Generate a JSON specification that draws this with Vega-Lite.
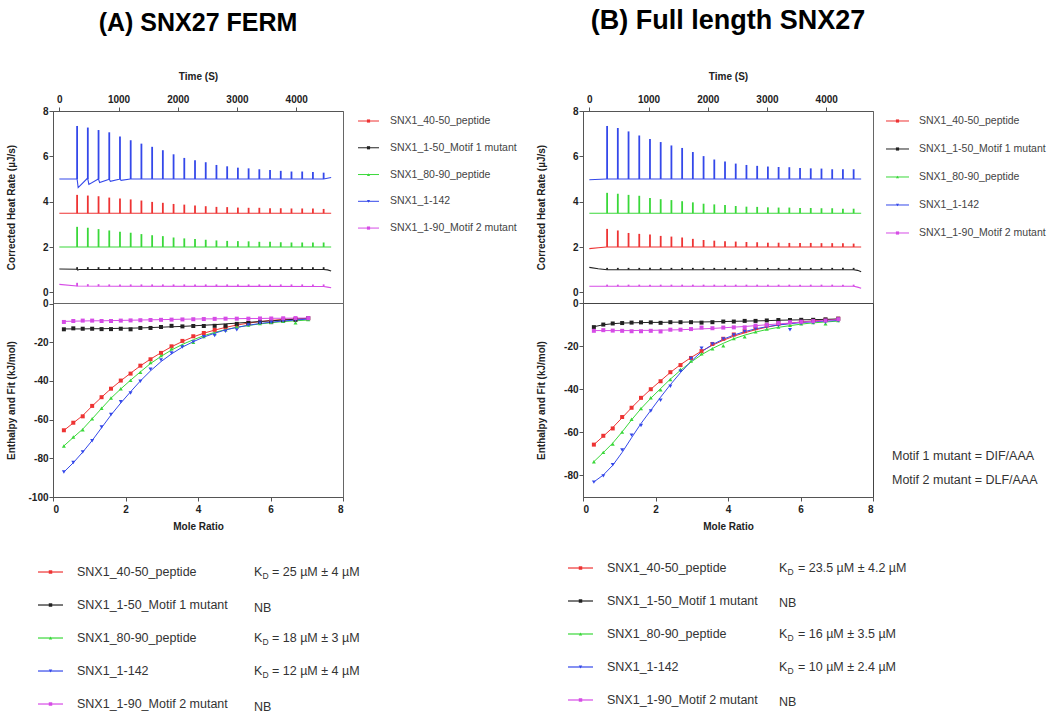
{
"$schema":"https://vega.github.io/schema/vega-lite/v6.json",
"padding":{"left":5,"top":6,"right":0,"bottom":0},
"background":"white",
"config":{"font":"Liberation Sans","view":{"stroke":null},
"axis":{"labelFont":"Liberation Sans","titleFont":"Liberation Sans","labelFontSize":10,"titleFontSize":10,"labelColor":"#222","titleColor":"#222","labelFontWeight":"bold","titleFontWeight":"bold","domainColor":"#555","tickColor":"#555","grid":false,"tickSize":4,"labelOverlap":false,"labelExpr":"'' + datum.value"},
"text":{"font":"Liberation Sans"}},
"datasets":{
"baseA":[{"s":"r","y0":3.49},{"s":"k","y0":1.01},{"s":"g","y0":2.0},{"s":"b","y0":5.0},{"s":"m","y0":0.27}],
"baseB":[{"s":"r","y0":2.0},{"s":"k","y0":1.0},{"s":"g","y0":3.49},{"s":"b","y0":5.0},{"s":"m","y0":0.27}],
"bl":[
{"p":"A","s":"r","t":0,"v":3.49},{"p":"A","s":"r","t":4590,"v":3.49},
{"p":"A","s":"g","t":0,"v":2.0},{"p":"A","s":"g","t":4590,"v":2.0},
{"p":"A","s":"b","t":0,"v":5.0},{"p":"A","s":"b","t":300,"v":5.0},{"p":"A","s":"b","t":318,"v":4.62},{"p":"A","s":"b","t":470,"v":5.02},{"p":"A","s":"b","t":481,"v":5.0},{"p":"A","s":"b","t":499,"v":4.76},{"p":"A","s":"b","t":650,"v":4.99},{"p":"A","s":"b","t":662,"v":5.0},{"p":"A","s":"b","t":680,"v":4.84},{"p":"A","s":"b","t":830,"v":4.98},{"p":"A","s":"b","t":843,"v":5.0},{"p":"A","s":"b","t":861,"v":4.9},{"p":"A","s":"b","t":1010,"v":4.99},{"p":"A","s":"b","t":1024,"v":5.0},{"p":"A","s":"b","t":1042,"v":4.94},{"p":"A","s":"b","t":1200,"v":5.0},{"p":"A","s":"b","t":4463,"v":5.0},{"p":"A","s":"b","t":4590,"v":5.07},
{"p":"A","s":"k","t":0,"v":1.03},{"p":"A","s":"k","t":295,"v":1.02},{"p":"A","s":"k","t":310,"v":0.98},{"p":"A","s":"k","t":330,"v":1.01},{"p":"A","s":"k","t":4463,"v":1.01},{"p":"A","s":"k","t":4530,"v":0.99},{"p":"A","s":"k","t":4590,"v":0.94},
{"p":"A","s":"m","t":0,"v":0.35},{"p":"A","s":"m","t":295,"v":0.28},{"p":"A","s":"m","t":1000,"v":0.27},{"p":"A","s":"m","t":4463,"v":0.26},{"p":"A","s":"m","t":4530,"v":0.23},{"p":"A","s":"m","t":4590,"v":0.2},
{"p":"B","s":"r","t":0,"v":1.93},{"p":"B","s":"r","t":150,"v":1.97},{"p":"B","s":"r","t":290,"v":2.0},{"p":"B","s":"r","t":4590,"v":2.0},
{"p":"B","s":"g","t":0,"v":3.49},{"p":"B","s":"g","t":4590,"v":3.49},
{"p":"B","s":"b","t":0,"v":4.97},{"p":"B","s":"b","t":290,"v":5.0},{"p":"B","s":"b","t":4590,"v":5.0},
{"p":"B","s":"k","t":0,"v":1.1},{"p":"B","s":"k","t":150,"v":1.04},{"p":"B","s":"k","t":300,"v":1.0},{"p":"B","s":"k","t":4463,"v":1.0},{"p":"B","s":"k","t":4530,"v":0.97},{"p":"B","s":"k","t":4590,"v":0.91},
{"p":"B","s":"m","t":0,"v":0.27},{"p":"B","s":"m","t":4463,"v":0.27},{"p":"B","s":"m","t":4530,"v":0.23},{"p":"B","s":"m","t":4590,"v":0.18}
],
"pk":[
{"p":"A","t":300,"r":4.30,"k":1.11,"g":2.89,"b":7.34,"m":0.42},
{"p":"A","t":481,"r":4.27,"k":1.11,"g":2.85,"b":7.27,"m":0.36},
{"p":"A","t":662,"r":4.24,"k":1.11,"g":2.79,"b":7.16,"m":0.36},
{"p":"A","t":843,"r":4.18,"k":1.11,"g":2.73,"b":7.06,"m":0.35},
{"p":"A","t":1024,"r":4.14,"k":1.11,"g":2.67,"b":6.88,"m":0.35},
{"p":"A","t":1205,"r":4.10,"k":1.11,"g":2.63,"b":6.71,"m":0.35},
{"p":"A","t":1386,"r":4.05,"k":1.11,"g":2.57,"b":6.56,"m":0.35},
{"p":"A","t":1567,"r":3.99,"k":1.11,"g":2.52,"b":6.42,"m":0.35},
{"p":"A","t":1748,"r":3.95,"k":1.11,"g":2.48,"b":6.27,"m":0.35},
{"p":"A","t":1929,"r":3.90,"k":1.11,"g":2.42,"b":6.09,"m":0.35},
{"p":"A","t":2110,"r":3.87,"k":1.11,"g":2.38,"b":5.93,"m":0.35},
{"p":"A","t":2291,"r":3.83,"k":1.11,"g":2.35,"b":5.83,"m":0.35},
{"p":"A","t":2472,"r":3.80,"k":1.11,"g":2.32,"b":5.74,"m":0.35},
{"p":"A","t":2653,"r":3.77,"k":1.11,"g":2.29,"b":5.62,"m":0.35},
{"p":"A","t":2834,"r":3.76,"k":1.11,"g":2.27,"b":5.56,"m":0.35},
{"p":"A","t":3015,"r":3.74,"k":1.11,"g":2.26,"b":5.50,"m":0.35},
{"p":"A","t":3196,"r":3.73,"k":1.11,"g":2.25,"b":5.47,"m":0.35},
{"p":"A","t":3377,"r":3.73,"k":1.11,"g":2.23,"b":5.43,"m":0.35},
{"p":"A","t":3558,"r":3.71,"k":1.11,"g":2.23,"b":5.40,"m":0.35},
{"p":"A","t":3739,"r":3.71,"k":1.11,"g":2.21,"b":5.36,"m":0.35},
{"p":"A","t":3920,"r":3.70,"k":1.11,"g":2.20,"b":5.33,"m":0.35},
{"p":"A","t":4101,"r":3.70,"k":1.11,"g":2.20,"b":5.33,"m":0.35},
{"p":"A","t":4282,"r":3.70,"k":1.11,"g":2.20,"b":5.31,"m":0.35},
{"p":"A","t":4463,"r":3.68,"k":1.11,"g":2.20,"b":5.28,"m":0.35},
{"p":"B","t":300,"r":2.80,"k":1.08,"g":4.39,"b":7.34,"m":0.34},
{"p":"B","t":481,"r":2.73,"k":1.08,"g":4.35,"b":7.25,"m":0.34},
{"p":"B","t":662,"r":2.62,"k":1.08,"g":4.30,"b":7.10,"m":0.34},
{"p":"B","t":843,"r":2.58,"k":1.08,"g":4.26,"b":6.92,"m":0.34},
{"p":"B","t":1024,"r":2.55,"k":1.08,"g":4.16,"b":6.77,"m":0.34},
{"p":"B","t":1205,"r":2.49,"k":1.08,"g":4.11,"b":6.63,"m":0.34},
{"p":"B","t":1386,"r":2.46,"k":1.08,"g":4.07,"b":6.48,"m":0.34},
{"p":"B","t":1567,"r":2.42,"k":1.08,"g":4.02,"b":6.37,"m":0.34},
{"p":"B","t":1748,"r":2.36,"k":1.08,"g":3.97,"b":6.19,"m":0.34},
{"p":"B","t":1929,"r":2.31,"k":1.08,"g":3.91,"b":6.01,"m":0.34},
{"p":"B","t":2110,"r":2.28,"k":1.08,"g":3.88,"b":5.86,"m":0.34},
{"p":"B","t":2291,"r":2.25,"k":1.08,"g":3.85,"b":5.77,"m":0.34},
{"p":"B","t":2472,"r":2.24,"k":1.08,"g":3.81,"b":5.68,"m":0.34},
{"p":"B","t":2653,"r":2.22,"k":1.08,"g":3.78,"b":5.62,"m":0.34},
{"p":"B","t":2834,"r":2.21,"k":1.08,"g":3.77,"b":5.58,"m":0.34},
{"p":"B","t":3015,"r":2.19,"k":1.08,"g":3.75,"b":5.55,"m":0.34},
{"p":"B","t":3196,"r":2.19,"k":1.08,"g":3.74,"b":5.53,"m":0.34},
{"p":"B","t":3377,"r":2.18,"k":1.08,"g":3.74,"b":5.52,"m":0.34},
{"p":"B","t":3558,"r":2.18,"k":1.08,"g":3.72,"b":5.49,"m":0.34},
{"p":"B","t":3739,"r":2.18,"k":1.08,"g":3.72,"b":5.47,"m":0.34},
{"p":"B","t":3920,"r":2.17,"k":1.08,"g":3.71,"b":5.46,"m":0.34},
{"p":"B","t":4101,"r":2.17,"k":1.08,"g":3.71,"b":5.43,"m":0.34},
{"p":"B","t":4282,"r":2.17,"k":1.08,"g":3.69,"b":5.43,"m":0.34},
{"p":"B","t":4463,"r":2.15,"k":1.08,"g":3.69,"b":5.43,"m":0.34}
],
"isoD":[
{"p":"A","x":0.30,"r":-65.5,"k":-13.3,"g":-73.6,"b":-87.1,"m":-9.5},
{"p":"A","x":0.56,"r":-61.6,"k":-12.8,"g":-69.0,"b":-82.2,"m":-9.0},
{"p":"A","x":0.82,"r":-58.3,"k":-13.0,"g":-65.2,"b":-76.7,"m":-8.8},
{"p":"A","x":1.08,"r":-52.9,"k":-13.0,"g":-59.5,"b":-70.9,"m":-8.8},
{"p":"A","x":1.34,"r":-48.4,"k":-13.2,"g":-54.1,"b":-63.8,"m":-9.0},
{"p":"A","x":1.60,"r":-44.0,"k":-13.2,"g":-48.8,"b":-57.4,"m":-9.0},
{"p":"A","x":1.87,"r":-39.8,"k":-13.0,"g":-44.0,"b":-50.7,"m":-8.8},
{"p":"A","x":2.14,"r":-36.2,"k":-13.3,"g":-39.7,"b":-46.2,"m":-8.7},
{"p":"A","x":2.41,"r":-32.1,"k":-12.6,"g":-35.5,"b":-40.2,"m":-8.6},
{"p":"A","x":2.69,"r":-28.8,"k":-12.6,"g":-30.5,"b":-34.0,"m":-8.5},
{"p":"A","x":2.98,"r":-25.5,"k":-12.1,"g":-26.9,"b":-29.1,"m":-8.4},
{"p":"A","x":3.27,"r":-22.1,"k":-11.5,"g":-23.3,"b":-25.5,"m":-8.3},
{"p":"A","x":3.57,"r":-19.3,"k":-11.8,"g":-21.5,"b":-22.4,"m":-8.2},
{"p":"A","x":3.87,"r":-16.9,"k":-11.6,"g":-20.0,"b":-19.8,"m":-8.1},
{"p":"A","x":4.16,"r":-15.2,"k":-11.6,"g":-17.0,"b":-17.2,"m":-8.0},
{"p":"A","x":4.46,"r":-13.6,"k":-11.5,"g":-15.5,"b":-16.5,"m":-7.9},
{"p":"A","x":4.76,"r":-12.3,"k":-11.5,"g":-13.6,"b":-14.3,"m":-7.8},
{"p":"A","x":5.07,"r":-11.0,"k":-10.5,"g":-12.1,"b":-13.6,"m":-7.8},
{"p":"A","x":5.39,"r":-10.1,"k":-10.0,"g":-11.1,"b":-11.1,"m":-7.8},
{"p":"A","x":5.71,"r":-9.3,"k":-9.4,"g":-10.3,"b":-10.2,"m":-7.7},
{"p":"A","x":6.02,"r":-8.8,"k":-9.6,"g":-9.7,"b":-9.6,"m":-7.7},
{"p":"A","x":6.35,"r":-8.3,"k":-8.8,"g":-9.1,"b":-9.0,"m":-7.6},
{"p":"A","x":6.69,"r":-8.0,"k":-8.4,"g":-9.9,"b":-8.5,"m":-7.5},
{"p":"A","x":7.04,"r":-7.6,"k":-7.6,"g":-8.3,"b":-8.0,"m":-7.5},
{"p":"B","x":0.30,"r":-65.7,"k":-11.2,"g":-73.6,"b":-83.1,"m":-12.9},
{"p":"B","x":0.56,"r":-61.6,"k":-10.0,"g":-69.3,"b":-80.2,"m":-12.6},
{"p":"B","x":0.82,"r":-58.2,"k":-9.5,"g":-65.4,"b":-75.0,"m":-12.8},
{"p":"B","x":1.08,"r":-52.9,"k":-9.3,"g":-59.8,"b":-68.2,"m":-12.9},
{"p":"B","x":1.34,"r":-48.6,"k":-9.1,"g":-53.9,"b":-61.3,"m":-13.1},
{"p":"B","x":1.60,"r":-44.0,"k":-9.0,"g":-48.9,"b":-56.8,"m":-13.1},
{"p":"B","x":1.87,"r":-40.0,"k":-9.0,"g":-44.0,"b":-50.1,"m":-12.9},
{"p":"B","x":2.14,"r":-36.3,"k":-9.2,"g":-40.2,"b":-45.1,"m":-13.2},
{"p":"B","x":2.41,"r":-32.1,"k":-8.9,"g":-35.5,"b":-38.6,"m":-12.4},
{"p":"B","x":2.69,"r":-28.8,"k":-8.9,"g":-30.8,"b":-31.6,"m":-12.4},
{"p":"B","x":2.98,"r":-25.5,"k":-8.9,"g":-26.9,"b":-25.7,"m":-12.1},
{"p":"B","x":3.27,"r":-22.3,"k":-9.1,"g":-23.5,"b":-21.0,"m":-11.4},
{"p":"B","x":3.57,"r":-19.0,"k":-8.9,"g":-21.2,"b":-19.0,"m":-11.7},
{"p":"B","x":3.87,"r":-16.6,"k":-8.6,"g":-19.8,"b":-16.7,"m":-11.4},
{"p":"B","x":4.16,"r":-14.6,"k":-8.6,"g":-16.5,"b":-14.8,"m":-11.3},
{"p":"B","x":4.46,"r":-13.1,"k":-8.3,"g":-15.7,"b":-13.2,"m":-11.3},
{"p":"B","x":4.76,"r":-11.7,"k":-8.3,"g":-13.4,"b":-11.9,"m":-10.5},
{"p":"B","x":5.07,"r":-10.4,"k":-8.1,"g":-12.1,"b":-11.0,"m":-10.1},
{"p":"B","x":5.39,"r":-9.6,"k":-7.9,"g":-11.2,"b":-10.3,"m":-9.3},
{"p":"B","x":5.71,"r":-8.9,"k":-7.9,"g":-10.3,"b":-12.4,"m":-8.9},
{"p":"B","x":6.02,"r":-8.6,"k":-7.8,"g":-9.6,"b":-9.5,"m":-8.7},
{"p":"B","x":6.35,"r":-8.1,"k":-7.8,"g":-9.0,"b":-9.2,"m":-8.4},
{"p":"B","x":6.69,"r":-7.8,"k":-7.6,"g":-9.6,"b":-8.9,"m":-8.1},
{"p":"B","x":7.04,"r":-7.3,"k":-7.3,"g":-8.1,"b":-8.2,"m":-7.5}
],
"isoF":[
{"p":"A","x":0.30,"r":-65.6,"k":-13.1,"g":-73.6,"b":-87.1,"m":-9.2},
{"p":"A","x":0.56,"r":-61.7,"k":-13.1,"g":-69.2,"b":-82.3,"m":-9.1},
{"p":"A","x":0.82,"r":-57.9,"k":-13.1,"g":-64.9,"b":-76.8,"m":-9.0},
{"p":"A","x":1.08,"r":-53.0,"k":-13.0,"g":-59.6,"b":-70.8,"m":-8.9},
{"p":"A","x":1.34,"r":-48.4,"k":-13.0,"g":-54.2,"b":-64.2,"m":-8.9},
{"p":"A","x":1.60,"r":-44.0,"k":-12.9,"g":-48.9,"b":-57.6,"m":-8.8},
{"p":"A","x":1.87,"r":-39.9,"k":-12.8,"g":-44.1,"b":-51.4,"m":-8.7},
{"p":"A","x":2.14,"r":-36.0,"k":-12.7,"g":-39.6,"b":-45.6,"m":-8.6},
{"p":"A","x":2.41,"r":-32.2,"k":-12.6,"g":-35.3,"b":-40.0,"m":-8.5},
{"p":"A","x":2.69,"r":-28.7,"k":-12.4,"g":-31.0,"b":-34.8,"m":-8.4},
{"p":"A","x":2.98,"r":-25.4,"k":-12.2,"g":-27.3,"b":-30.0,"m":-8.3},
{"p":"A","x":3.27,"r":-22.3,"k":-12.0,"g":-24.0,"b":-26.0,"m":-8.2},
{"p":"A","x":3.57,"r":-19.6,"k":-11.8,"g":-21.1,"b":-22.5,"m":-8.1},
{"p":"A","x":3.87,"r":-17.2,"k":-11.5,"g":-18.7,"b":-19.7,"m":-8.0},
{"p":"A","x":4.16,"r":-15.3,"k":-11.2,"g":-16.6,"b":-17.3,"m":-7.9},
{"p":"A","x":4.46,"r":-13.7,"k":-10.9,"g":-14.9,"b":-15.3,"m":-7.9},
{"p":"A","x":4.76,"r":-12.3,"k":-10.5,"g":-13.5,"b":-13.6,"m":-7.8},
{"p":"A","x":5.07,"r":-11.1,"k":-10.1,"g":-12.3,"b":-12.3,"m":-7.8},
{"p":"A","x":5.39,"r":-10.1,"k":-9.7,"g":-11.3,"b":-11.2,"m":-7.7},
{"p":"A","x":5.71,"r":-9.3,"k":-9.3,"g":-10.5,"b":-10.3,"m":-7.7},
{"p":"A","x":6.02,"r":-8.7,"k":-8.9,"g":-9.9,"b":-9.6,"m":-7.6},
{"p":"A","x":6.35,"r":-8.2,"k":-8.5,"g":-9.3,"b":-9.0,"m":-7.6},
{"p":"A","x":6.69,"r":-7.9,"k":-8.1,"g":-8.9,"b":-8.5,"m":-7.5},
{"p":"A","x":7.04,"r":-7.6,"k":-7.6,"g":-8.5,"b":-8.0,"m":-7.5},
{"p":"B","x":0.30,"r":-65.7,"k":-11.0,"g":-73.6,"b":-83.0,"m":-12.8},
{"p":"B","x":0.56,"r":-61.8,"k":-10.1,"g":-69.4,"b":-79.8,"m":-12.8},
{"p":"B","x":0.82,"r":-57.8,"k":-9.6,"g":-65.0,"b":-75.3,"m":-12.8},
{"p":"B","x":1.08,"r":-53.2,"k":-9.3,"g":-59.8,"b":-69.3,"m":-12.8},
{"p":"B","x":1.34,"r":-48.6,"k":-9.2,"g":-54.2,"b":-62.5,"m":-12.8},
{"p":"B","x":1.60,"r":-44.2,"k":-9.1,"g":-49.0,"b":-55.9,"m":-12.7},
{"p":"B","x":1.87,"r":-40.0,"k":-9.0,"g":-44.2,"b":-49.8,"m":-12.7},
{"p":"B","x":2.14,"r":-36.1,"k":-9.0,"g":-39.7,"b":-43.7,"m":-12.6},
{"p":"B","x":2.41,"r":-32.2,"k":-8.9,"g":-35.3,"b":-37.9,"m":-12.5},
{"p":"B","x":2.69,"r":-28.6,"k":-8.9,"g":-31.2,"b":-32.3,"m":-12.4},
{"p":"B","x":2.98,"r":-25.3,"k":-8.8,"g":-27.4,"b":-27.1,"m":-12.2},
{"p":"B","x":3.27,"r":-22.3,"k":-8.8,"g":-24.0,"b":-22.6,"m":-12.0},
{"p":"B","x":3.57,"r":-19.6,"k":-8.7,"g":-21.1,"b":-19.3,"m":-11.8},
{"p":"B","x":3.87,"r":-17.3,"k":-8.6,"g":-18.7,"b":-16.8,"m":-11.5},
{"p":"B","x":4.16,"r":-15.4,"k":-8.5,"g":-16.6,"b":-14.9,"m":-11.2},
{"p":"B","x":4.46,"r":-13.8,"k":-8.4,"g":-14.9,"b":-13.3,"m":-10.9},
{"p":"B","x":4.76,"r":-12.4,"k":-8.3,"g":-13.5,"b":-12.0,"m":-10.5},
{"p":"B","x":5.07,"r":-11.2,"k":-8.2,"g":-12.3,"b":-11.0,"m":-10.1},
{"p":"B","x":5.39,"r":-10.2,"k":-8.0,"g":-11.3,"b":-10.2,"m":-9.7},
{"p":"B","x":5.71,"r":-9.4,"k":-7.9,"g":-10.5,"b":-9.6,"m":-9.3},
{"p":"B","x":6.02,"r":-8.8,"k":-7.8,"g":-9.8,"b":-9.1,"m":-8.9},
{"p":"B","x":6.35,"r":-8.3,"k":-7.7,"g":-9.2,"b":-8.7,"m":-8.5},
{"p":"B","x":6.69,"r":-7.9,"k":-7.6,"g":-8.8,"b":-8.4,"m":-8.1},
{"p":"B","x":7.04,"r":-7.5,"k":-7.4,"g":-8.4,"b":-8.1,"m":-7.7}
],
"leg":[
{"s":"r","o":1,"n":"SNX1_40-50_peptide","kA":"= 25 µM ± 4 µM","kB":"= 23.5 µM ± 4.2 µM"},
{"s":"k","o":2,"n":"SNX1_1-50_Motif 1 mutant","kA":"NB","kB":"NB"},
{"s":"g","o":3,"n":"SNX1_80-90_peptide","kA":"= 18 µM ± 3 µM","kB":"= 16 µM ± 3.5 µM"},
{"s":"b","o":4,"n":"SNX1_1-142","kA":"= 12 µM ± 4 µM","kB":"= 10 µM ± 2.4 µM"},
{"s":"m","o":5,"n":"SNX1_1-90_Motif 2 mutant","kA":"NB","kB":"NB"}
]
},
"columns":4,
"spacing":0,
"bounds":"flush",
"align":"each",
"concat":[
{"width":290,"height":192,"view":{"stroke":"#666"},
"title":{"text":"(A) SNX27 FERM","fontSize":25,"fontWeight":"bold","font":"Liberation Sans","color":"#000","offset":35,"anchor":"middle"},
"layer":[
{"data":{"name":"bl"},"transform":[{"filter":"datum.p=='A'"}],"mark":{"type":"line","strokeWidth":1.1},
"encoding":{"x":{"field":"t","type":"quantitative","scale":{"domain":[-107,4790],"nice":false,"zero":false},"axis":{"orient":"top","values":[0,1000,2000,3000,4000],"title":"Time (S)","labelPadding":3,"titlePadding":13,"labelOverlap":false}},
"y":{"field":"v","type":"quantitative","scale":{"domain":[-0.47,8],"nice":false,"zero":false},"axis":{"values":[0,2,4,6,8],"title":"Corrected Heat Rate (µJ/s)","titleX":-37,"labelPadding":1,"labelOverlap":false}},
"color":{"field":"s","type":"nominal","scale":{"domain":["r","k","g","b","m"],"range":["#ee3333","#222222","#3ad83a","#3448ea","#d64ce6"]},"legend":null}}},
{"data":{"name":"pk"},"transform":[{"filter":"datum.p=='A'"},{"fold":["r","k","g","b","m"],"as":["s","v"]},{"lookup":"s","from":{"data":{"name":"baseA"},"key":"s","fields":["y0"]}}],
"mark":{"type":"rule","strokeWidth":1.8},
"encoding":{"x":{"field":"t","type":"quantitative"},"y":{"field":"v","type":"quantitative"},"y2":{"field":"y0"},"color":{"field":"s","type":"nominal","legend":null}}}
]},
{"width":240,"height":192,"data":{"name":"leg"},
"encoding":{"y":{"field":"o","type":"quantitative","scale":{"domain":[0.626,7.8],"reverse":true,"nice":false,"zero":false},"axis":null},
"color":{"field":"s","type":"nominal","scale":{"domain":["r","k","g","b","m"],"range":["#ee3333","#222222","#3ad83a","#3448ea","#d64ce6"]},"legend":null}},
"layer":[
{"mark":{"type":"rule","strokeWidth":1},"encoding":{"x":{"datum":15,"type":"quantitative","scale":{"domain":[0,240],"nice":false,"zero":false},"axis":null},"x2":{"datum":36}}},
{"mark":{"type":"point","filled":true,"size":10,"opacity":1},"encoding":{"x":{"datum":25.5,"type":"quantitative"},"shape":{"field":"s","type":"nominal","scale":{"domain":["r","k","g","b","m"],"range":["square","square","triangle-up","triangle-down","square"]},"legend":null}}},
{"mark":{"type":"text","align":"left","baseline":"middle","fontSize":10.5},"encoding":{"x":{"datum":47,"type":"quantitative"},"text":{"field":"n"},"color":{"value":"#444"}}}
]},
{"width":290,"height":192,"view":{"stroke":"#666"},
"title":{"text":"(B) Full length SNX27","fontSize":27,"fontWeight":"bold","font":"Liberation Sans","color":"#000","offset":36,"anchor":"middle"},
"layer":[
{"data":{"name":"bl"},"transform":[{"filter":"datum.p=='B'"}],"mark":{"type":"line","strokeWidth":1.1},
"encoding":{"x":{"field":"t","type":"quantitative","scale":{"domain":[-107,4790],"nice":false,"zero":false},"axis":{"orient":"top","values":[0,1000,2000,3000,4000],"title":"Time (S)","labelPadding":3,"titlePadding":13,"labelOverlap":false}},
"y":{"field":"v","type":"quantitative","scale":{"domain":[-0.47,8],"nice":false,"zero":false},"axis":{"values":[0,2,4,6,8],"title":"Corrected Heat Rate (µJ/s)","titleX":-37,"labelPadding":1,"labelOverlap":false}},
"color":{"field":"s","type":"nominal","scale":{"domain":["r","k","g","b","m"],"range":["#ee3333","#222222","#3ad83a","#3448ea","#d64ce6"]},"legend":null}}},
{"data":{"name":"pk"},"transform":[{"filter":"datum.p=='B'"},{"fold":["r","k","g","b","m"],"as":["s","v"]},{"lookup":"s","from":{"data":{"name":"baseB"},"key":"s","fields":["y0"]}}],
"mark":{"type":"rule","strokeWidth":1.8},
"encoding":{"x":{"field":"t","type":"quantitative"},"y":{"field":"v","type":"quantitative"},"y2":{"field":"y0"},"color":{"field":"s","type":"nominal","legend":null}}}
]},
{"width":178,"height":192,"data":{"name":"leg"},
"encoding":{"y":{"field":"o","type":"quantitative","scale":{"domain":[0.643,7.5],"reverse":true,"nice":false,"zero":false},"axis":null},
"color":{"field":"s","type":"nominal","scale":{"domain":["r","k","g","b","m"],"range":["#ee3333","#222222","#3ad83a","#3448ea","#d64ce6"]},"legend":null}},
"layer":[
{"mark":{"type":"rule","strokeWidth":1},"encoding":{"x":{"datum":13,"type":"quantitative","scale":{"domain":[0,178],"nice":false,"zero":false},"axis":null},"x2":{"datum":36}}},
{"mark":{"type":"point","filled":true,"size":10,"opacity":1},"encoding":{"x":{"datum":24.5,"type":"quantitative"},"shape":{"field":"s","type":"nominal","scale":{"domain":["r","k","g","b","m"],"range":["square","square","triangle-up","triangle-down","square"]},"legend":null}}},
{"mark":{"type":"text","align":"left","baseline":"middle","fontSize":10.5},"encoding":{"x":{"datum":46,"type":"quantitative"},"text":{"field":"n"},"color":{"value":"#444"}}}
]},
{"width":290,"height":194,"view":{"stroke":"#666"},
"layer":[
{"data":{"name":"isoF"},"transform":[{"filter":"datum.p=='A'"},{"fold":["r","k","g","b","m"],"as":["s","v"]}],"mark":{"type":"line","strokeWidth":1},
"encoding":{"x":{"field":"x","type":"quantitative","scale":{"domain":[0,8],"nice":false,"zero":false},"axis":{"values":[0,2,4,6,8],"title":"Mole Ratio","labelPadding":3,"titlePadding":7,"labelOverlap":false}},
"y":{"field":"v","type":"quantitative","scale":{"domain":[-100,0.3],"nice":false,"zero":false},"axis":{"values":[0,-20,-40,-60,-80,-100],"title":"Enthalpy and Fit (kJ/mol)","titleX":-37,"labelPadding":1,"labelOverlap":false,"labelFlush":false}},
"color":{"field":"s","type":"nominal","scale":{"domain":["r","k","g","b","m"],"range":["#ee3333","#222222","#3ad83a","#3448ea","#d64ce6"]},"legend":null}}},
{"data":{"name":"isoD"},"transform":[{"filter":"datum.p=='A'"},{"fold":["r","k","g","b","m"],"as":["s","v"]}],"mark":{"type":"point","filled":true,"size":16,"opacity":1},
"encoding":{"x":{"field":"x","type":"quantitative","axis":{"values":[0,2,4,6,8],"title":"Mole Ratio","labelPadding":3,"titlePadding":7,"labelOverlap":false}},"y":{"field":"v","type":"quantitative","axis":{"values":[0,-20,-40,-60,-80,-100],"title":"Enthalpy and Fit (kJ/mol)","titleX":-37,"labelPadding":1,"labelOverlap":false,"labelFlush":false}},"color":{"field":"s","type":"nominal","legend":null},
"shape":{"field":"s","type":"nominal","scale":{"domain":["r","k","g","b","m"],"range":["square","square","triangle-up","triangle-down","square"]},"legend":null}}}
]},
{"width":240,"height":194,"data":{"values":[{"a":1}]},"mark":{"type":"text"},"encoding":{"text":{"value":""}}},
{"width":290,"height":194,"view":{"stroke":"#444"},
"layer":[
{"data":{"name":"isoF"},"transform":[{"filter":"datum.p=='B'"},{"fold":["r","k","g","b","m"],"as":["s","v"]}],"mark":{"type":"line","strokeWidth":1},
"encoding":{"x":{"field":"x","type":"quantitative","scale":{"domain":[0,8],"nice":false,"zero":false},"axis":{"values":[0,2,4,6,8],"title":"Mole Ratio","labelPadding":3,"titlePadding":7,"labelOverlap":false}},
"y":{"field":"v","type":"quantitative","scale":{"domain":[-90,0],"nice":false,"zero":false},"axis":{"values":[0,-20,-40,-60,-80],"title":"Enthalpy and Fit (kJ/mol)","titleX":-37,"labelPadding":1,"labelOverlap":false}},
"color":{"field":"s","type":"nominal","scale":{"domain":["r","k","g","b","m"],"range":["#ee3333","#222222","#3ad83a","#3448ea","#d64ce6"]},"legend":null}}},
{"data":{"name":"isoD"},"transform":[{"filter":"datum.p=='B'"},{"fold":["r","k","g","b","m"],"as":["s","v"]}],"mark":{"type":"point","filled":true,"size":16,"opacity":1},
"encoding":{"x":{"field":"x","type":"quantitative"},"y":{"field":"v","type":"quantitative"},"color":{"field":"s","type":"nominal","legend":null},
"shape":{"field":"s","type":"nominal","scale":{"domain":["r","k","g","b","m"],"range":["square","square","triangle-up","triangle-down","square"]},"legend":null}}}
]},
{"width":178,"height":194,"data":{"values":[{"o":1,"t":"Motif 1 mutant = DIF/AAA"},{"o":2,"t":"Motif 2 mutant = DLF/AAA"}]},
"mark":{"type":"text","align":"left","baseline":"middle","fontSize":12.5,"color":"#333"},
"encoding":{"x":{"datum":19,"type":"quantitative","scale":{"domain":[0,178],"nice":false,"zero":false},"axis":null},"y":{"field":"o","type":"quantitative","scale":{"domain":[-5.375,2.708],"reverse":true,"nice":false,"zero":false},"axis":null},"text":{"field":"t"}}},
{"width":290,"height":215,"data":{"name":"leg"},
"encoding":{"y":{"field":"o","type":"quantitative","scale":{"domain":[-1.273,5.242],"reverse":true,"nice":false,"zero":false},"axis":null}},
"layer":[
{"mark":{"type":"rule","strokeWidth":1.2},"encoding":{"x":{"datum":-15,"type":"quantitative","scale":{"domain":[0,290],"nice":false,"zero":false},"axis":null},"x2":{"datum":10},"color":{"field":"s","type":"nominal","scale":{"domain":["r","k","g","b","m"],"range":["#ee3333","#222222","#3ad83a","#3448ea","#d64ce6"]},"legend":null}}},
{"mark":{"type":"point","filled":true,"size":12,"opacity":1},"encoding":{"x":{"datum":-2.5,"type":"quantitative"},"color":{"field":"s","type":"nominal","legend":null},"shape":{"field":"s","type":"nominal","scale":{"domain":["r","k","g","b","m"],"range":["square","square","triangle-up","triangle-down","square"]},"legend":null}}},
{"mark":{"type":"text","align":"left","baseline":"middle","fontSize":12.5,"color":"#333"},"encoding":{"x":{"datum":24,"type":"quantitative"},"text":{"field":"n"}}},
{"transform":[{"filter":"datum.kA != 'NB'"}],"mark":{"type":"text","align":"left","baseline":"middle","fontSize":12.5,"color":"#333","text":"K"},"encoding":{"x":{"datum":201,"type":"quantitative"}}},
{"transform":[{"filter":"datum.kA != 'NB'"}],"mark":{"type":"text","align":"left","baseline":"middle","fontSize":8.5,"color":"#333","text":"D","dy":4},"encoding":{"x":{"datum":209.5,"type":"quantitative"}}},
{"transform":[{"filter":"datum.kA != 'NB'"}],"mark":{"type":"text","align":"left","baseline":"middle","fontSize":12.5,"color":"#333"},"encoding":{"x":{"datum":219,"type":"quantitative"},"text":{"field":"kA"}}},
{"transform":[{"filter":"datum.kA == 'NB'"}],"mark":{"type":"text","align":"left","baseline":"middle","fontSize":12.5,"color":"#333","dy":3},"encoding":{"x":{"datum":201,"type":"quantitative"},"text":{"field":"kA"}}}
]},
{"width":240,"height":215,"data":{"values":[{"a":1}]},"mark":{"type":"text"},"encoding":{"text":{"value":""}}},
{"width":290,"height":215,"data":{"name":"leg"},
"encoding":{"y":{"field":"o","type":"quantitative","scale":{"domain":[-1.152,5.364],"reverse":true,"nice":false,"zero":false},"axis":null}},
"layer":[
{"mark":{"type":"rule","strokeWidth":1.2},"encoding":{"x":{"datum":-15,"type":"quantitative","scale":{"domain":[0,290],"nice":false,"zero":false},"axis":null},"x2":{"datum":10},"color":{"field":"s","type":"nominal","scale":{"domain":["r","k","g","b","m"],"range":["#ee3333","#222222","#3ad83a","#3448ea","#d64ce6"]},"legend":null}}},
{"mark":{"type":"point","filled":true,"size":12,"opacity":1},"encoding":{"x":{"datum":-2.5,"type":"quantitative"},"color":{"field":"s","type":"nominal","legend":null},"shape":{"field":"s","type":"nominal","scale":{"domain":["r","k","g","b","m"],"range":["square","square","triangle-up","triangle-down","square"]},"legend":null}}},
{"mark":{"type":"text","align":"left","baseline":"middle","fontSize":12.5,"color":"#333"},"encoding":{"x":{"datum":24,"type":"quantitative"},"text":{"field":"n"}}},
{"transform":[{"filter":"datum.kB != 'NB'"}],"mark":{"type":"text","align":"left","baseline":"middle","fontSize":12.5,"color":"#333","text":"K"},"encoding":{"x":{"datum":196,"type":"quantitative"}}},
{"transform":[{"filter":"datum.kB != 'NB'"}],"mark":{"type":"text","align":"left","baseline":"middle","fontSize":8.5,"color":"#333","text":"D","dy":4},"encoding":{"x":{"datum":204.5,"type":"quantitative"}}},
{"transform":[{"filter":"datum.kB != 'NB'"}],"mark":{"type":"text","align":"left","baseline":"middle","fontSize":12.5,"color":"#333"},"encoding":{"x":{"datum":215,"type":"quantitative"},"text":{"field":"kB"}}},
{"transform":[{"filter":"datum.kB == 'NB'"}],"mark":{"type":"text","align":"left","baseline":"middle","fontSize":12.5,"color":"#333","dy":2},"encoding":{"x":{"datum":196,"type":"quantitative"},"text":{"field":"kB"}}}
]}
]
}
